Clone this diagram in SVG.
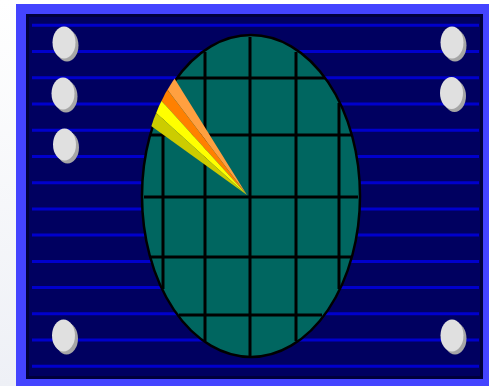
<svg xmlns="http://www.w3.org/2000/svg" width="489" height="386" viewBox="0 0 489 386">
<defs>
<linearGradient id="bg" x1="0" y1="0" x2="0" y2="1">
<stop offset="0" stop-color="#ffffff"/>
<stop offset="1" stop-color="#eef0f6"/>
</linearGradient>
<clipPath id="dish"><ellipse cx="251" cy="196" rx="110.5" ry="162.5"/></clipPath>
</defs>
<style>
.stripe{stroke:#0000cc;stroke-width:3}
.grid{stroke:#000000;stroke-width:3}
.pill{fill:#e0e0e0}
.shadow{fill:#a6a6a6}
</style>
<rect x="0" y="0" width="489" height="386" fill="url(#bg)"/>
<rect x="16" y="4" width="473" height="382" fill="#4444ff"/>
<rect x="27.5" y="15.5" width="454" height="362" fill="#000060" stroke="#00003c" stroke-width="3"/>
<g id="stripes">
<line class="stripe" x1="32" y1="25.3" x2="479" y2="25.3"/>
<line class="stripe" x1="32" y1="51.5" x2="479" y2="51.5"/>
<line class="stripe" x1="32" y1="77.8" x2="479" y2="77.8"/>
<line class="stripe" x1="32" y1="104" x2="479" y2="104"/>
<line class="stripe" x1="32" y1="130.2" x2="479" y2="130.2"/>
<line class="stripe" x1="32" y1="156.5" x2="479" y2="156.5"/>
<line class="stripe" x1="32" y1="182.7" x2="479" y2="182.7"/>
<line class="stripe" x1="32" y1="208.9" x2="479" y2="208.9"/>
<line class="stripe" x1="32" y1="235.1" x2="479" y2="235.1"/>
<line class="stripe" x1="32" y1="261.4" x2="479" y2="261.4"/>
<line class="stripe" x1="32" y1="287.6" x2="479" y2="287.6"/>
<line class="stripe" x1="32" y1="313.8" x2="479" y2="313.8"/>
<line class="stripe" x1="32" y1="340.1" x2="479" y2="340.1"/>
<line class="stripe" x1="32" y1="366.3" x2="479" y2="366.3"/>
</g>
<g id="radar">
<ellipse cx="251" cy="196" rx="109" ry="161" fill="#006660" stroke="#000000" stroke-width="2.5"/>
<g id="grid">
<line class="grid" x1="177" y1="78" x2="325" y2="78"/>
<line class="grid" x1="150" y1="135" x2="351" y2="135"/>
<line class="grid" x1="144" y1="197" x2="358" y2="197"/>
<line class="grid" x1="151" y1="257" x2="351" y2="257"/>
<line class="grid" x1="179" y1="315" x2="322" y2="315"/>
<line class="grid" x1="163" y1="101" x2="163" y2="289"/>
<line class="grid" x1="205" y1="52" x2="205" y2="341"/>
<line class="grid" x1="250" y1="37" x2="250" y2="356"/>
<line class="grid" x1="296" y1="52" x2="296" y2="341"/>
<line class="grid" x1="339" y1="103" x2="339" y2="289"/>
</g>
<g id="sweep" clip-path="url(#dish)">
<polygon points="247,195 164.7,62.75 156.7,75.4" fill="#ffa040"/>
<polygon points="247,195 156.7,75.4 149.8,88.05" fill="#ff8000"/>
<polygon points="247,195 149.8,88.05 143.7,101.85" fill="#ffff00"/>
<polygon points="247,195 143.7,101.85 138.3,116.8" fill="#cccc00"/>
</g>
</g>
<g id="pill-l1"><ellipse class="shadow" cx="67" cy="45.5" rx="11.5" ry="16"/><ellipse class="pill" cx="64" cy="42.5" rx="11.5" ry="16"/></g>
<g id="pill-l2"><ellipse class="shadow" cx="66" cy="96.5" rx="11.5" ry="16"/><ellipse class="pill" cx="63" cy="93.5" rx="11.5" ry="16"/></g>
<g id="pill-l3"><ellipse class="shadow" cx="67.5" cy="147.5" rx="11.5" ry="16"/><ellipse class="pill" cx="64.5" cy="144.5" rx="11.5" ry="16"/></g>
<g id="pill-l4"><ellipse class="shadow" cx="66.5" cy="338.5" rx="11.5" ry="16"/><ellipse class="pill" cx="63.5" cy="335.5" rx="11.5" ry="16"/></g>
<g id="pill-r1"><ellipse class="shadow" cx="455" cy="45.5" rx="11.5" ry="16"/><ellipse class="pill" cx="452" cy="42.5" rx="11.5" ry="16"/></g>
<g id="pill-r2"><ellipse class="shadow" cx="454.5" cy="96" rx="11.5" ry="16"/><ellipse class="pill" cx="451.5" cy="93" rx="11.5" ry="16"/></g>
<g id="pill-r3"><ellipse class="shadow" cx="455" cy="338.5" rx="11.5" ry="16"/><ellipse class="pill" cx="452" cy="335.5" rx="11.5" ry="16"/></g>
</svg>
